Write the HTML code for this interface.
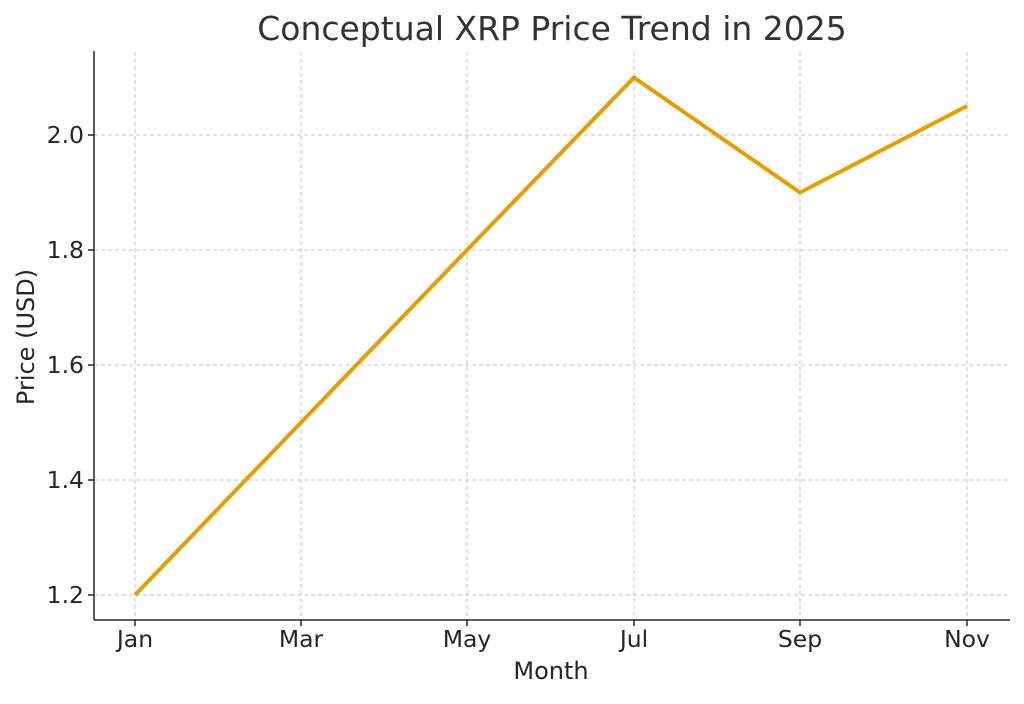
<!DOCTYPE html>
<html><head><meta charset="utf-8"><style>
html,body{margin:0;padding:0;background:#fff}
svg text{font-family:"DejaVu Sans","Liberation Sans",sans-serif;fill:#262626}
</style></head><body>
<svg width="1024" height="699" viewBox="0 0 1024 699" xmlns="http://www.w3.org/2000/svg">
<g stroke="#c4c4c4" stroke-width="1" stroke-dasharray="4,3">
<line x1="135" y1="52" x2="135" y2="620"/>
<line x1="301" y1="52" x2="301" y2="620"/>
<line x1="467" y1="52" x2="467" y2="620"/>
<line x1="634" y1="52" x2="634" y2="620"/>
<line x1="800" y1="52" x2="800" y2="620"/>
<line x1="967" y1="52" x2="967" y2="620"/>
<line x1="94" y1="595" x2="1010" y2="595"/>
<line x1="94" y1="480" x2="1010" y2="480"/>
<line x1="94" y1="365" x2="1010" y2="365"/>
<line x1="94" y1="250" x2="1010" y2="250"/>
<line x1="94" y1="135" x2="1010" y2="135"/>
</g>
<g stroke="#262626" stroke-width="1.5">
<line x1="94" y1="51" x2="94" y2="620"/>
<line x1="94" y1="620" x2="1010" y2="620"/>
<line x1="135" y1="620" x2="135" y2="626"/><line x1="301" y1="620" x2="301" y2="626"/><line x1="467" y1="620" x2="467" y2="626"/><line x1="634" y1="620" x2="634" y2="626"/><line x1="800" y1="620" x2="800" y2="626"/><line x1="967" y1="620" x2="967" y2="626"/>
<line x1="88" y1="595" x2="94" y2="595"/><line x1="88" y1="480" x2="94" y2="480"/><line x1="88" y1="365" x2="94" y2="365"/><line x1="88" y1="250" x2="94" y2="250"/><line x1="88" y1="135" x2="94" y2="135"/>
</g>
<polyline points="135,595 301,422.5 467,250 634,77.5 800,192.5 967,106" fill="none" stroke="#E69F00" stroke-width="4" stroke-linejoin="round"/>
<g font-size="23.5" text-anchor="middle">
<text x="135" y="647">Jan</text><text x="301" y="647">Mar</text><text x="467" y="647">May</text><text x="634" y="647">Jul</text><text x="800" y="647">Sep</text><text x="967" y="647">Nov</text>
</g>
<g font-size="23.5" text-anchor="end">
<text x="84" y="603">1.2</text><text x="84" y="488">1.4</text><text x="84" y="373">1.6</text><text x="84" y="258">1.8</text><text x="84" y="143">2.0</text>
</g>
<text x="551" y="679" font-size="24" text-anchor="middle">Month</text>
<text transform="translate(34,337) rotate(-90)" font-size="24" text-anchor="middle">Price (USD)</text>
<text x="552" y="40" font-size="33" text-anchor="middle" style="fill:#333">Conceptual XRP Price Trend in 2025</text>
</svg>
</body></html>
